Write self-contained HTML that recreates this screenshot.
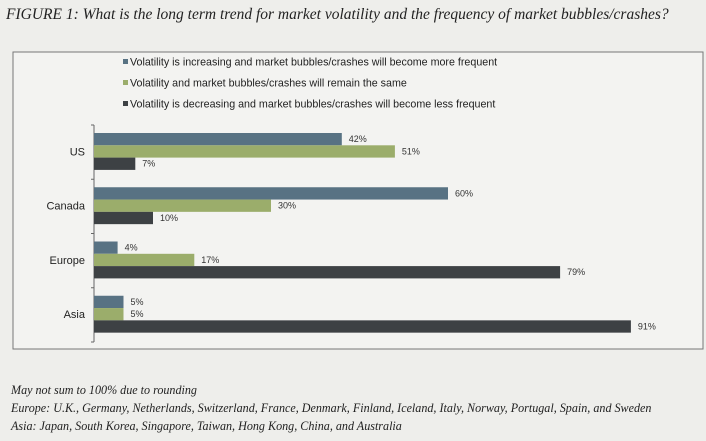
<!DOCTYPE html>
<html><head><meta charset="utf-8"><style>
body{margin:0;width:706px;height:441px;background:#eeeeeb;overflow:hidden;position:relative}
.t{position:absolute;font-family:"Liberation Serif",serif;font-style:italic;color:#222;white-space:nowrap}
</style></head><body>
<div class="t" style="left:6px;top:6px;font-size:15.5px">FIGURE 1: What is the long term trend for market volatility and the frequency of market bubbles/crashes?</div>
<svg width="706" height="441" style="position:absolute;left:0;top:0" id="c" font-family="Liberation Sans, sans-serif">
<rect x="13" y="52" width="690" height="297" fill="#f3f3f1" stroke="#777" stroke-width="1"/>
</svg>
<div class="t" style="left:11px;top:383px;font-size:12.1px">May not sum to 100% due to rounding</div>
<div class="t" style="left:11px;top:401px;font-size:12.1px">Europe: U.K., Germany, Netherlands, Switzerland, France, Denmark, Finland, Iceland, Italy, Norway, Portugal, Spain, and Sweden</div>
<div class="t" style="left:11px;top:419px;font-size:12.1px">Asia: Japan, South Korea, Singapore, Taiwan, Hong Kong, China, and Australia</div>
<script>
const categories=["US","Canada","Europe","Asia"];
const seriesNames=["Volatility is increasing and market bubbles/crashes will become more frequent","Volatility and market bubbles/crashes will remain the same","Volatility is decreasing and market bubbles/crashes will become less frequent"];
const increasing=[42,60,4,5];
const same=[51,30,17,5];
const decreasing=[7,10,79,91];
const colors=["#587283","#9bad6b","#3d4144"];
const series=[increasing,same,decreasing];
const svg=document.getElementById('c');
const NS="http://www.w3.org/2000/svg";
const x0=94,pxPer=5.9,yTop=125,yBot=342;
const band=(yBot-yTop)/categories.length,barH=12.3;
const xs=v=>x0+v*pxPer;
function mk(t,a){const e=document.createElementNS(NS,t);for(const k in a)e.setAttribute(k,a[k]);svg.appendChild(e);return e;}
seriesNames.forEach((n,i)=>{
  const y=62+i*21;
  const m=mk('rect',{x:123,y:y-3,width:5,height:5,fill:colors[i]});
  
  
  const t=mk('text',{x:130,y:y+3.5,'font-size':10.7,fill:'#222'});
  t.textContent=n;
  
  
});
const ax=mk('line',{x1:x0,y1:yTop,x2:x0,y2:yBot,stroke:'#666','stroke-width':1});


for(let i=0;i<=categories.length;i++){
  const tk=mk('line',{x1:x0-3,y1:yTop+i*band,x2:x0,y2:yTop+i*band,stroke:'#666'});
  
  
}
categories.forEach((c,ci)=>{
  const top=yTop+ci*band+8;
  const lb=mk('text',{x:85,y:top+barH*1.5+4,'font-size':11,'text-anchor':'end',fill:'#222'});
  lb.textContent=c;
  
  
  series.forEach((s,si)=>{
    const y=top+si*barH;
    const r=mk('rect',{x:x0,y:y,width:xs(s[ci])-x0,height:barH,fill:colors[si]});
    
    
    const v=mk('text',{x:xs(s[ci])+7,y:y+9,'font-size':9,fill:'#333'});
    v.textContent=s[ci]+'%';
    
    
  });
});
</script>
</body></html>
